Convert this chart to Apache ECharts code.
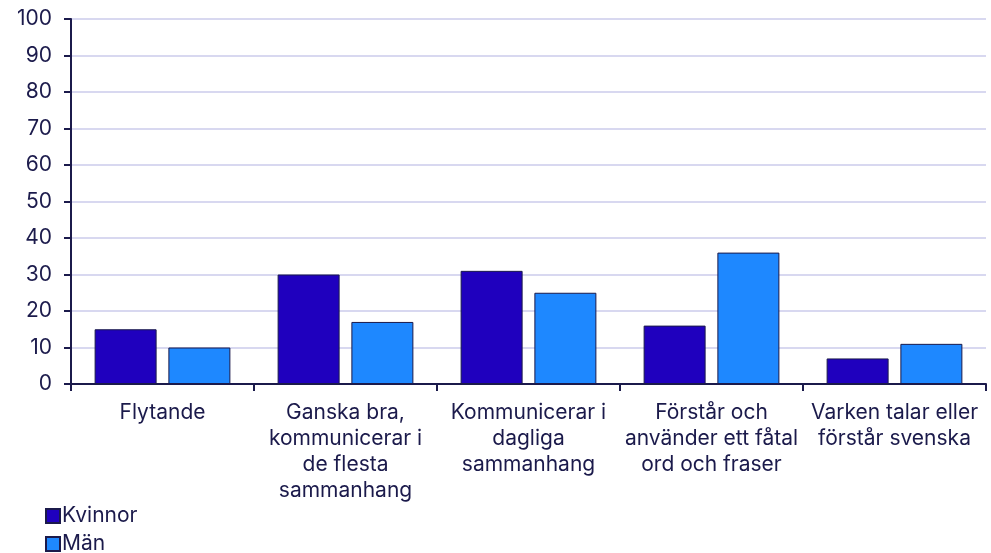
<!DOCTYPE html>
<html>
<head>
<meta charset="utf-8">
<script src="https://cdn.jsdelivr.net/npm/echarts@6/dist/echarts.min.js"></script>
<style>
  html, body { margin: 0; padding: 0; background: #fff; }
  #main { width: 991px; height: 553px; }
</style>
</head>
<body>
<div id="main"></div>
<script>
var categories = [
  'Flytande',
  'Ganska bra,\nkommunicerar i\nde flesta\nsammanhang',
  'Kommunicerar i\ndagliga\nsammanhang',
  'Förstår och\nanvänder ett fåtal\nord och fraser',
  'Varken talar eller\nförstår svenska'
];
var kvinnor = [15, 30, 31, 16, 7];
var man = [10, 17, 25, 36, 11];
var yTicks = [0, 10, 20, 30, 40, 50, 60, 70, 80, 90, 100];

var textColor = '#1b1a4b';
var myChart = echarts.init(document.getElementById('main'));
var option = {
  animation: false,
  textStyle: { fontFamily: 'Inter', color: textColor },
  grid: { left: 71, right: 5, top: 19, bottom: 169 },
  legend: {
    orient: 'vertical',
    left: 40,
    top: 499,
    height: 60,
    itemWidth: 14,
    itemHeight: 14,
    itemGap: 4,
    icon: 'rect',
    textStyle: { fontSize: 21, lineHeight: 24, color: textColor, fontFamily: 'Inter', padding: [0, 0, 0, -3] },
    data: ['Kvinnor', 'Män']
  },
  xAxis: {
    type: 'category',
    data: categories,
    axisLine: { lineStyle: { color: textColor, width: 2 } },
    axisTick: { show: true, length: 7, lineStyle: { color: textColor, width: 2 } },
    axisLabel: { fontSize: 21, color: textColor, lineHeight: 26, margin: 16, interval: 0 }
  },
  yAxis: {
    type: 'value',
    min: yTicks[0],
    max: yTicks[yTicks.length - 1],
    interval: 10,
    axisLine: { show: true, lineStyle: { color: textColor, width: 2 } },
    axisTick: { show: true, length: 7, lineStyle: { color: textColor, width: 2 } },
    axisLabel: { fontSize: 21, color: textColor, margin: 19 },
    splitLine: { lineStyle: { color: '#d8d8f0', width: 2 } }
  },
  series: [
    {
      name: 'Kvinnor',
      type: 'bar',
      data: kvinnor,
      barWidth: 62,
      barGap: '19%',
      itemStyle: { color: '#1f00be', borderColor: textColor, borderWidth: 1 }
    },
    {
      name: 'Män',
      type: 'bar',
      data: man,
      barWidth: 62,
      barGap: '19%',
      itemStyle: { color: '#1e88ff', borderColor: textColor, borderWidth: 1 }
    }
  ]
};
myChart.setOption(option);
</script>
</body>
</html>
